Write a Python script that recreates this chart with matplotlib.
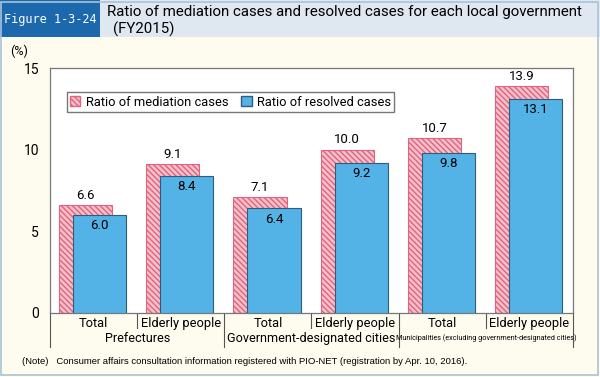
import matplotlib
matplotlib.use('Agg')
import matplotlib.pyplot as plt
from matplotlib.patches import Rectangle, Patch

plt.rcParams['font.family'] = ['Roboto', 'DejaVu Sans']
plt.rcParams['hatch.linewidth'] = 1.0

# data
categories = ['Total', 'Elderly people', 'Total', 'Elderly people', 'Total', 'Elderly people']
groups = ['Prefectures', 'Government-designated cities',
          'Municipalities (excluding government-designated cities)']
mediation = [6.6, 9.1, 7.1, 10.0, 10.7, 13.9]
resolved = [6.0, 8.4, 6.4, 9.2, 9.8, 13.1]
yticks = [0, 5, 10, 15]

cream = '#fefcee'
band = '#dfe7f1'
navy = '#1c68ad'
pink_face = '#f5c0ca'
pink_hatch = '#e0647f'
blue = '#53b2e6'
blue_edge = '#2f5d7c'

fig = plt.figure(figsize=(6, 3.77), dpi=100, facecolor=cream)

# title band and figure number box
fig.patches.append(Rectangle((0, 1 - 37 / 377), 1, 37 / 377, transform=fig.transFigure,
                             facecolor=band, edgecolor='none', zorder=0))
fig.patches.append(Rectangle((0, 1 - 37 / 377), 100 / 600, 37 / 377, transform=fig.transFigure,
                             facecolor=navy, edgecolor='none', zorder=1))
fig.patches.append(Rectangle((0.002, 0.004), 0.994, 0.99, transform=fig.transFigure,
                             facecolor='none', edgecolor='#a8c3da', lw=1.2, zorder=2))
fig.text(50 / 600, 1 - 19 / 377, 'Figure 1-3-24', color='white', fontsize=8.6,
         ha='center', va='center', family='DejaVu Sans Mono')
fig.text(107 / 600, 1 - 12 / 377, 'Ratio of mediation cases and resolved cases for each local government',
         fontsize=10.8, ha='left', va='center')
fig.text(113 / 600, 1 - 29 / 377, '(FY2015)', fontsize=10.8, ha='left', va='center')

ax = fig.add_axes([50 / 600, 1 - 313 / 377, 523 / 600, 245 / 377])
ax.set_facecolor('white')
x = list(range(len(categories)))

w = 0.61
ax.bar([i - 0.09 for i in x], mediation, width=w, facecolor=pink_face, edgecolor=pink_hatch,
       hatch='\\\\\\\\\\\\', lw=0.8, zorder=2, label='Ratio of mediation cases')
ax.bar([i + 0.07 for i in x], resolved, width=w, facecolor=blue, edgecolor=blue_edge,
       lw=0.8, zorder=3, label='Ratio of resolved cases')

for i in x:
    ax.text(i - 0.09, mediation[i] + 0.2, f'{mediation[i]:.1f}', ha='center', va='bottom', fontsize=9.5)
    ax.text(i + 0.07, resolved[i] - 0.25, f'{resolved[i]:.1f}', ha='center', va='top', fontsize=9.5)

ax.set_xlim(-0.5, len(categories) - 0.5)
ax.set_ylim(0, 15)
ax.set_yticks(yticks)
ax.tick_params(axis='y', length=0, labelsize=10, pad=8)
ax.set_xticks(x)
ax.set_xticklabels(categories, fontsize=9.3)
ax.tick_params(axis='x', length=0, pad=3)
for s in ax.spines.values():
    s.set_color('#777777')
    s.set_linewidth(0.9)

ax.text(-0.06, 1.04, '(%)', transform=ax.transAxes, ha='center', va='bottom', fontsize=9)

# separators below the axis
tr = ax.get_xaxis_transform()
for i in range(len(categories) + 1):
    pos = i - 0.5
    bottom = -0.14 if i % 2 == 0 else -0.06
    ax.plot([pos, pos], [0, bottom], transform=tr, color='#555555', lw=0.8, clip_on=False)

for g, name in enumerate(groups):
    fs = 9.1 if g < 2 else 5.2
    ax.text(2 * g + 0.5, -0.104, name, transform=tr, ha='center', va='center', fontsize=fs)

ax.legend(handles=[Patch(facecolor=pink_face, edgecolor=pink_hatch, hatch='\\\\\\\\\\\\'),
                   Patch(facecolor=blue, edgecolor=blue_edge)],
          labels=['Ratio of mediation cases', 'Ratio of resolved cases'],
          loc='upper left', bbox_to_anchor=(0.02, 0.927), ncol=2, fancybox=False,
          edgecolor='#777777', framealpha=1, fontsize=9.3, handlelength=0.8, handleheight=0.8,
          handletextpad=0.4, columnspacing=1.0, borderpad=0.25)

fig.text(22 / 600, 1 - 361 / 377,
         '(Note)   Consumer affairs consultation information registered with PIO-NET (registration by Apr. 10, 2016).',
         fontsize=6.8, ha='left', va='center', family='Liberation Sans')

fig.savefig('out.png', dpi=100, facecolor=cream)
